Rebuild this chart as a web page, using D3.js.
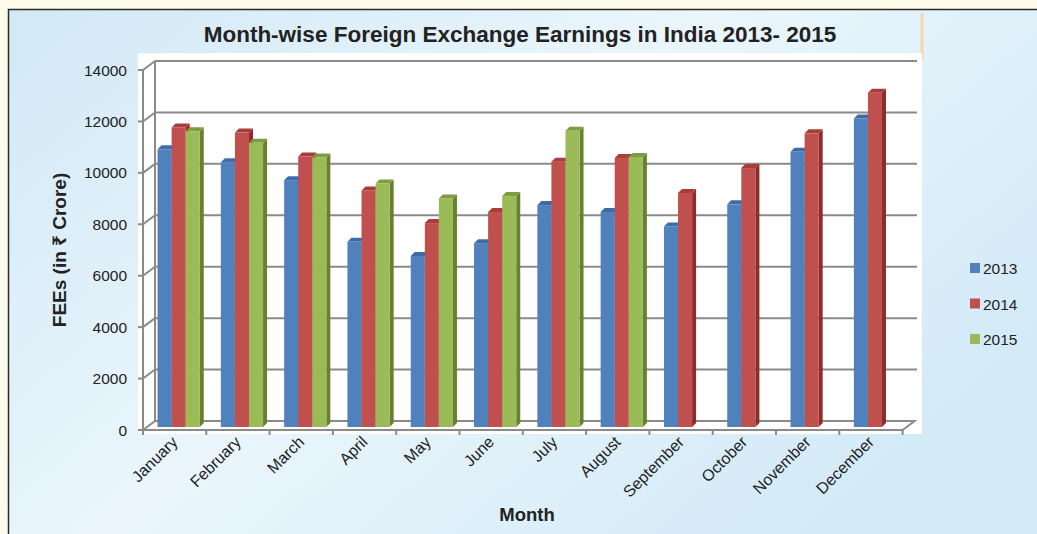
<!DOCTYPE html>
<html>
<head>
<meta charset="utf-8">
<script src="https://cdn.jsdelivr.net/npm/d3@7"></script>
<style>
  body { margin: 0; background: #fffbea; }
  svg { display: block; font-family: "Liberation Sans", Arial, "Noto Sans", sans-serif; }
</style>
</head>
<body>
<script>
// data
const months = ["January", "February", "March", "April", "May", "June",
                "July", "August", "September", "October", "November", "December"];
const years = ["2013", "2014", "2015"];
const fee2013 = [10800, 10300, 9600, 7200, 6650, 7150, 8630, 8360, 7800, 8660, 10700, 12000];
const fee2014 = [11650, 11450, 10520, 9200, 7930, 8360, 10320, 10460, 9100, 10070, 11420, 13000];
const fee2015 = [11500, 11050, 10480, 9470, 8890, 8980, 11520, 10500, null, null, null, null];
const yTicks = [0, 2000, 4000, 6000, 8000, 10000, 12000, 14000];

const series = [fee2013, fee2014, fee2015];
const colors = ["#4f81bd", "#c0504d", "#9bbb59"];
const sides  = ["#2f5d96", "#8e2c29", "#66812f"];
const tops   = ["#3f6ca6", "#a83d3a", "#7f9c3f"];

const W = 1037, H = 534;
const svg = d3.select("body").append("svg").attr("width", W).attr("height", H);
const defs = svg.append("defs");

const grad = defs.append("linearGradient").attr("id", "bg")
  .attr("x1", "0%").attr("y1", "0%").attr("x2", "100%").attr("y2", "60%");
grad.append("stop").attr("offset", "0%").attr("stop-color", "#d2e8f6");
grad.append("stop").attr("offset", "50%").attr("stop-color", "#eaf6fc");
grad.append("stop").attr("offset", "100%").attr("stop-color", "#d3eaf7");

// outer panel
svg.append("rect").attr("x", 8.5).attr("y", 9.5).attr("width", W).attr("height", H)
  .attr("fill", "url(#bg)").attr("stroke", "#2a2a2a").attr("stroke-width", 1.5);

// thin tan line at the right of the title block
svg.append("line").attr("x1", 922).attr("x2", 922).attr("y1", 13).attr("y2", 61)
  .attr("stroke", "#f3d9a6").attr("stroke-width", 3);

// white plot area
svg.append("rect").attr("x", 138).attr("y", 53).attr("width", 784).attr("height", 381)
  .attr("fill", "#ffffff");

svg.append("text").attr("x", 520).attr("y", 42).attr("text-anchor", "middle")
  .attr("font-size", 22.5).attr("font-weight", "bold").attr("fill", "#222")
  .text("Month-wise Foreign Exchange Earnings in India 2013- 2015");

// scales
const x0 = d3.scaleBand().domain(months).range([143, 902.6]).paddingInner(1 / 3).paddingOuter(1 / 6);
const xCat = d3.scaleBand().domain(months).range([143, 902.6]);
const x1 = d3.scaleBand().domain(years).range([0, x0.bandwidth()]);
const y = d3.scaleLinear().domain([0, 14000]).range([430, 70]);

const dx = 12, dy = -9;        // depth of the back wall
const bx = 4, by = -3;         // bar front face offset into the depth
const bdx = 4, bdy = -4;       // bar thickness

const grid = svg.append("g").attr("stroke", "#8a8a8a").attr("stroke-width", 2).attr("fill", "none");
// back wall gridlines and diagonals
yTicks.forEach(v => {
  if (v > 0) {
    grid.append("line").attr("x1", 143 + dx).attr("x2", 917).attr("y1", y(v) + dy).attr("y2", y(v) + dy);
  }
  grid.append("line").attr("x1", 143).attr("x2", 143 + dx).attr("y1", y(v)).attr("y2", y(v) + dy);
  grid.append("line").attr("x1", 138).attr("x2", 143).attr("y1", y(v)).attr("y2", y(v));
});
grid.append("line").attr("x1", 143 + dx).attr("x2", 143 + dx).attr("y1", y(14000) + dy).attr("y2", y(0) + dy);
grid.append("line").attr("x1", 143).attr("x2", 143).attr("y1", y(14000)).attr("y2", y(0));
// floor
grid.append("path").attr("d",
  `M${143 + dx},${y(0) + dy}L${902.6 + dx},${y(0) + dy}L902.6,${y(0)}L143,${y(0)}`);
// category ticks
months.concat(["end"]).forEach((m, i) => {
  const xx = 143 + i * xCat.bandwidth();
  grid.append("line").attr("x1", xx).attr("x2", xx).attr("y1", y(0)).attr("y2", y(0) + 5);
});

// y tick labels
svg.append("g").selectAll("text").data(yTicks).join("text")
  .attr("x", 127).attr("y", d => y(d) + 5.5).attr("text-anchor", "end")
  .attr("font-size", 15.5).attr("fill", "#222").text(d => d);

// bars
const bars = svg.append("g");
months.forEach((m, i) => {
  series.forEach((s, k) => {
    const v = s[i];
    if (v == null) return;
    const left = x0(m) + x1(years[k]) + bx;
    const right = left + x1.bandwidth();
    const top = y(v) + by;
    const bottom = y(0) + by;
    bars.append("path").attr("fill", sides[k]).attr("d",
      `M${right},${bottom}L${right + bdx},${bottom + bdy}L${right + bdx},${top + bdy}L${right},${top}Z`);
    bars.append("path").attr("fill", tops[k]).attr("d",
      `M${left},${top}L${left + bdx},${top + bdy}L${right + bdx},${top + bdy}L${right},${top}Z`);
    bars.append("rect").attr("x", left).attr("y", top)
      .attr("width", x1.bandwidth()).attr("height", bottom - top).attr("fill", colors[k]);
  });
});

// month labels
svg.append("g").selectAll("text").data(months).join("text")
  .attr("transform", d => `translate(${xCat(d) + xCat.bandwidth() / 2 + 4},${y(0) + 13}) rotate(-45)`)
  .attr("text-anchor", "end").attr("font-size", 16).attr("fill", "#222").text(d => d);

// axis titles
svg.append("text").attr("transform", "translate(66,250) rotate(-90)")
  .attr("text-anchor", "middle").attr("font-size", 19).attr("font-weight", "bold").attr("fill", "#222")
  .style("font-family", "'Liberation Sans', 'Noto Sans', 'DejaVu Sans', sans-serif")
  .text("FEEs (in \u20B9 Crore)");
svg.append("text").attr("x", 527).attr("y", 521).attr("text-anchor", "middle")
  .attr("font-size", 18.5).attr("font-weight", "bold").attr("fill", "#222").text("Month");

// legend
const leg = svg.append("g").selectAll("g").data(years).join("g")
  .attr("transform", (d, i) => `translate(970,${268 + i * 35.5})`);
leg.append("rect").attr("x", 0).attr("y", -5).attr("width", 10).attr("height", 10)
  .attr("fill", (d, i) => colors[i]);
leg.append("text").attr("x", 13).attr("y", 6).attr("font-size", 15.5).attr("fill", "#222").text(d => d);
</script>
</body>
</html>
